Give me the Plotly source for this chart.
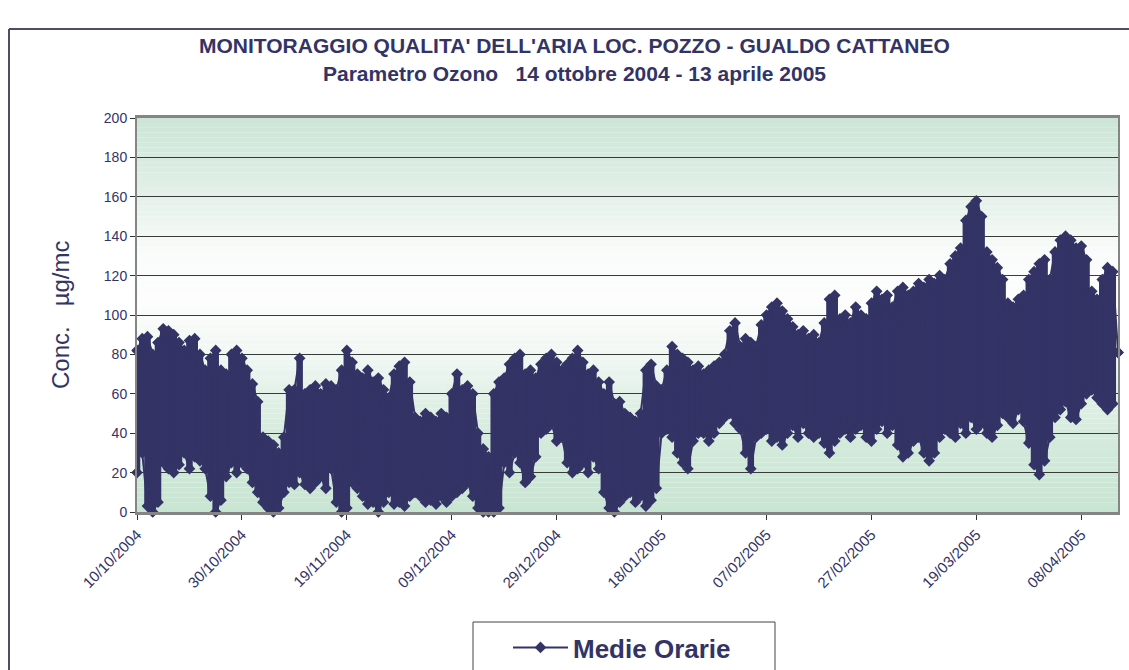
import plotly.graph_objects as go
import pandas as pd

# ---------------- data ----------------
start_date = "2004-10-10"

daily_max = [
    82, 88, 89, 80, 86, 93, 92, 90, 86, 82,
    87, 88, 80, 72, 78, 82, 72, 70, 80, 82,
    78, 72, 65, 56, 38, 36, 34, 30, 38, 62,
    62, 78, 60, 62, 64, 60, 65, 64, 62, 72,
    82, 76, 70, 68, 72, 66, 68, 62, 58, 70,
    74, 76, 66, 48, 46, 50, 48, 46, 50, 48,
    60, 70, 62, 64, 60, 40, 32, 28, 60, 66,
    68, 75, 78, 80, 70, 72, 68, 75, 78, 80,
    76, 72, 75, 78, 82, 76, 70, 72, 66, 60,
    66, 55, 56, 50, 48, 46, 50, 72, 75, 64,
    62, 72, 84, 80, 78, 76, 72, 74, 70, 72,
    74, 76, 80, 92, 96, 84, 88, 86, 84, 95,
    100, 104, 106, 102, 98, 94, 90, 92, 88, 90,
    86, 96, 108, 110, 98, 100, 96, 104, 100, 98,
    106, 112, 108, 110, 104, 112, 114, 110, 112, 116,
    114, 118, 116, 120, 118, 126, 130, 134, 148, 155,
    158, 150, 132, 128, 124, 118, 106, 104, 108, 110,
    118, 122, 126, 128, 118, 132, 138, 140, 138, 134,
    135, 128, 112, 108, 118, 124, 122, 81,
]

daily_min = [
    20, 30, 3, 0, 5, 25, 22, 20, 24, 30,
    22, 28, 26, 22, 8, 0, 6, 18, 25, 20,
    25, 22, 15, 10, 5, 2, 0, 2, 10, 15,
    14, 20, 14, 12, 15, 18, 12, 22, 5, 0,
    2, 15, 12, 8, 4, 5, 0, 5, 10, 4,
    5, 3, 8, 10, 8, 5, 6, 4, 8, 5,
    8, 10, 12, 15, 8, 2, 0, 0, 0, 2,
    25, 20, 30, 25, 15, 18, 28, 40, 42, 45,
    36, 38, 25, 20, 22, 25, 20, 28, 22, 10,
    2, 0, 5, 8, 10, 5, 8, 3, 6, 12,
    40, 42, 38, 30, 25, 22, 36, 40, 40, 36,
    40, 45, 48, 50, 45, 42, 30, 22, 38, 40,
    42, 36, 38, 34, 40, 44, 38, 45, 40, 38,
    40, 35, 30, 36, 40, 42, 38, 42, 44, 38,
    36, 42, 46, 40, 44, 34, 28, 30, 36, 38,
    30, 26, 30, 38, 42, 40, 38, 45, 40, 48,
    42, 45, 40, 38, 44, 50, 48, 45, 52, 46,
    35, 24, 19, 26, 38, 48, 52, 56, 48, 47,
    55, 60, 62, 58, 55, 52, 55, 81,
]

series_name = "Medie Orarie"
title_line1 = "MONITORAGGIO QUALITA' DELL'ARIA LOC. POZZO - GUALDO CATTANEO"
title_line2 = "Parametro Ozono   14 ottobre 2004 - 13 aprile 2005"
y_title = "Conc.   µg/mc"
x_range = ["2004-10-10", "2005-04-15"]
x_tick0 = "2004-10-10"
x_tick_step_days = 20
y_range = [0, 200]
y_tick_step = 20

# ---------------- styling ----------------
NAVY = "#333366"
FONT = "Liberation Sans, Arial, sans-serif"
W, H = 1129, 670
L, R, T, B = 137, 11, 118, 158
PW, PH = W - L - R, H - T - B


def px_to_paper_x(px):
    return (px - L) / PW


def px_to_paper_y(py):
    return (H - B - py) / PH


dates = pd.date_range(start_date, periods=len(daily_max), freq="D")

# zig-zag order so the connecting line runs through each day's column
xs, ys = [], []
for i, d in enumerate(dates):
    pair = (daily_min[i], daily_max[i]) if i % 2 == 0 else (daily_max[i], daily_min[i])
    xs += [d, d]
    ys += list(pair)

day_ms = 86400000

fig = go.Figure()
fig.add_trace(go.Bar(
    x=dates,
    y=[mx - mn for mx, mn in zip(daily_max, daily_min)],
    base=daily_min,
    width=1.25 * day_ms,
    marker=dict(color=NAVY, line=dict(width=0)),
    showlegend=False,
    hoverinfo="skip",
    cliponaxis=False,
))
fig.add_trace(go.Scatter(
    x=xs, y=ys,
    mode="lines+markers",
    name=series_name,
    line=dict(color=NAVY, width=2),
    marker=dict(symbol="diamond", size=9, color=NAVY),
    cliponaxis=False,
))

# gradient background of the plot area (green - white - green)
stops = [(0, (200, 228, 210)), (40, (213, 235, 221)), (80, (240, 247, 243)),
         (105, (252, 253, 252)), (130, (250, 252, 251)), (160, (228, 241, 233)),
         (200, (203, 229, 214))]


def grad_color(v):
    for (v0, c0), (v1, c1) in zip(stops[:-1], stops[1:]):
        if v0 <= v <= v1:
            t = (v - v0) / (v1 - v0)
            return "rgb(%d,%d,%d)" % tuple(round(a + (b - a) * t) for a, b in zip(c0, c1))
    return "rgb(%d,%d,%d)" % stops[-1][1]


shapes = []
band = 2.5
v = 0.0
while v < 200:
    shapes.append(dict(type="rect", xref="paper", yref="y", x0=0, x1=1, y0=v, y1=v + band,
                       fillcolor=grad_color(v + band / 2), line=dict(width=0), layer="below"))
    v += band

# outer chart frame (only top and left edges fall inside the picture)
shapes.append(dict(type="line", xref="paper", yref="paper",
                   x0=px_to_paper_x(9), x1=px_to_paper_x(1129),
                   y0=px_to_paper_y(29), y1=px_to_paper_y(29),
                   line=dict(color="#4d4d6b", width=2), layer="above"))
shapes.append(dict(type="line", xref="paper", yref="paper",
                   x0=px_to_paper_x(9), x1=px_to_paper_x(9),
                   y0=px_to_paper_y(29), y1=px_to_paper_y(670),
                   line=dict(color="#4d4d6b", width=2), layer="above"))
# legend box
shapes.append(dict(type="rect", xref="paper", yref="paper",
                   x0=px_to_paper_x(473), x1=px_to_paper_x(775),
                   y0=px_to_paper_y(680), y1=px_to_paper_y(622),
                   line=dict(color="#444444", width=1), fillcolor="white", layer="above"))

annotations = [
    dict(text="<b>" + title_line1 + "</b>", xref="paper", yref="paper",
         x=px_to_paper_x(574), y=px_to_paper_y(45), showarrow=False,
         font=dict(family=FONT, size=21, color=NAVY), xanchor="center", yanchor="middle"),
    dict(text="<b>" + title_line2 + "</b>", xref="paper", yref="paper",
         x=px_to_paper_x(574), y=px_to_paper_y(73), showarrow=False,
         font=dict(family=FONT, size=21, color=NAVY), xanchor="center", yanchor="middle"),
    dict(text=y_title, xref="paper", yref="paper",
         x=px_to_paper_x(60), y=px_to_paper_y(315), showarrow=False, textangle=-90,
         font=dict(family=FONT, size=24, color=NAVY), xanchor="center", yanchor="middle"),
]

fig.update_layout(
    width=W, height=H,
    margin=dict(l=L, r=R, t=T, b=B, pad=0, autoexpand=False),
    paper_bgcolor="white",
    plot_bgcolor="white",
    barmode="overlay",
    shapes=shapes,
    annotations=annotations,
    font=dict(family=FONT, color=NAVY),
    legend=dict(
        orientation="h",
        x=px_to_paper_x(508), y=px_to_paper_y(624),
        xanchor="left", yanchor="top",
        bgcolor="rgba(0,0,0,0)", borderwidth=0,
        font=dict(family=FONT, size=26, color=NAVY, weight="bold"),
        itemwidth=55,
    ),
    xaxis=dict(
        type="date",
        range=x_range,
        tick0=x_tick0,
        dtick=x_tick_step_days * day_ms,
        tickformat="%d/%m/%Y",
        tickangle=-45,
        tickfont=dict(family=FONT, size=15, color=NAVY),
        ticks="outside", ticklen=5, tickcolor="#333333", tickwidth=1,
        showgrid=False,
        showline=True, linecolor="#858585", linewidth=3, mirror=True,
        zeroline=False,
        automargin=False,
    ),
    yaxis=dict(
        range=y_range,
        dtick=y_tick_step,
        tickfont=dict(family=FONT, size=14, color=NAVY),
        ticks="outside", ticklen=5, tickcolor="#333333", tickwidth=1,
        showgrid=True, gridcolor="#3a3a3a", gridwidth=1,
        showline=True, linecolor="#858585", linewidth=2, mirror=True,
        zeroline=False,
        automargin=False,
    ),
)

fig.write_html("out.html",
               post_script="document.body.style.margin='0';document.body.style.overflow='hidden';",
               config={"displayModeBar": False})
